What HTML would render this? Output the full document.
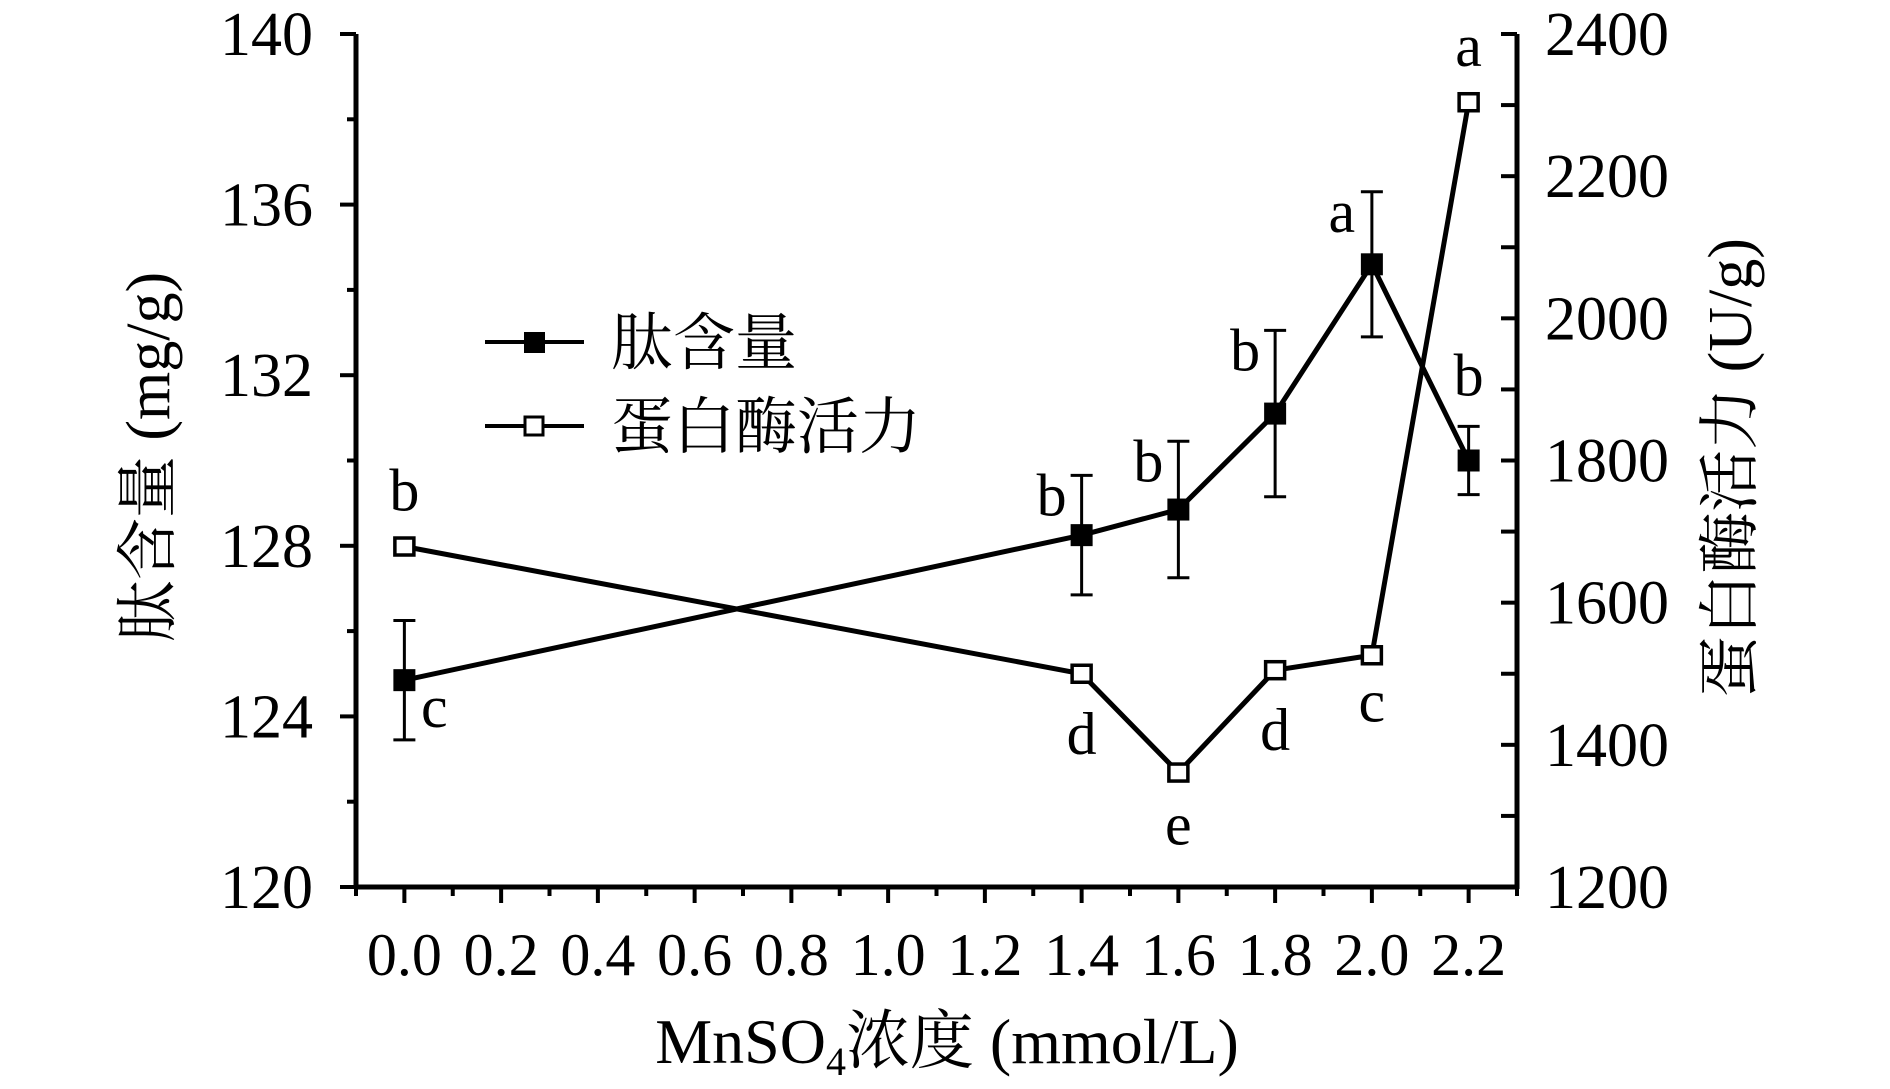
<!DOCTYPE html>
<html><head><meta charset="utf-8"><style>
html,body{margin:0;padding:0;background:#fff;}
svg{display:block;}
text{font-family:"Liberation Serif","Noto Serif CJK SC",serif;fill:#000;}
.cjk{font-family:"Liberation Serif","Noto Serif CJK SC",serif;}
</style></head><body>
<svg id="chart" width="1890" height="1089" viewBox="0 0 1890 1089" xmlns="http://www.w3.org/2000/svg">
<g id="axes"></g>
<g id="series"></g>
<text x="155" y="457" font-size="62" text-anchor="middle" dominant-baseline="middle" transform="rotate(-90 155 457)" class="cjk">肽含量 (mg/g)</text>
<text x="1737" y="468" font-size="62" text-anchor="middle" dominant-baseline="middle" transform="rotate(-90 1737 468)" class="cjk">蛋白酶活力 (U/g)</text>
<text x="947" y="1063" font-size="64" text-anchor="middle" class="cjk">MnSO<tspan font-size="40" dy="12">4</tspan><tspan dy="-12">浓度 (mmol/L)</tspan></text>
<g>
  <g>
    <line x1="485" y1="342" x2="584" y2="342" stroke="#000" stroke-width="4"/>
    <rect x="524" y="332" width="21" height="21" fill="#000"/>
    <text x="611" y="364" font-size="62" class="cjk">肽含量</text>
  </g>
  <g>
    <line x1="485" y1="426" x2="584" y2="426" stroke="#000" stroke-width="4"/>
    <rect x="525" y="417" width="18" height="18" fill="#fff" stroke="#000" stroke-width="3"/>
    <text x="611" y="448" font-size="62" class="cjk">蛋白酶活力</text>
  </g>
</g>
</svg>
<script>
const xCats = [0.0, 1.4, 1.6, 1.8, 2.0, 2.2];
const peptide = [124.85, 128.25, 128.85, 131.1, 134.6, 130.0];
const peptideErr = [1.4, 1.4, 1.6, 1.95, 1.7, 0.8];
const peptideLetters = ['c','b','b','b','a','b'];
const protease = [1679, 1500, 1361, 1505, 1526, 2304];
const proteaseErr = [0, 0, 10, 10, 10, 0];
const proteaseLetters = ['b','d','e','d','c','a'];
const xTicks = [0.0,0.2,0.4,0.6,0.8,1.0,1.2,1.4,1.6,1.8,2.0,2.2];
const xTickLabels = ['0.0','0.2','0.4','0.6','0.8','1.0','1.2','1.4','1.6','1.8','2.0','2.2'];
const leftTicks = [120,124,128,132,136,140];
const rightTicks = [1200,1400,1600,1800,2000,2200,2400];

const NS='http://www.w3.org/2000/svg';
const X0=356, X1=1517, Y0=887, Y1=34;
const xs = v => X0 + (v+0.1)/2.4*(X1-X0);
const yl = v => Y0 - (v-120)/20*(Y0-Y1);
const yr = v => Y0 - (v-1200)/1200*(Y0-Y1);
function el(tag, attrs, parent){const e=document.createElementNS(NS,tag);for(const k in attrs)e.setAttribute(k,attrs[k]);parent.appendChild(e);return e;}
const axes=document.getElementById('axes'), series=document.getElementById('series');

let a=el('line',{x1:X0,y1:Y1,x2:X0,y2:Y0+2,stroke:'#000','stroke-width':5},axes);


a=el('line',{x1:X1,y1:Y1,x2:X1,y2:Y0+2,stroke:'#000','stroke-width':5},axes);


a=el('line',{x1:X0-2,y1:Y0,x2:X1+2,y2:Y0,stroke:'#000','stroke-width':5},axes);



for(let i=0;i<xTicks.length;i++){
  const x=xs(xTicks[i]);
  el('line',{x1:x,y1:Y0,x2:x,y2:Y0+16,stroke:'#000','stroke-width':4},axes);
  const m=xs(xTicks[i]-0.1);
  el('line',{x1:m,y1:Y0,x2:m,y2:Y0+9,stroke:'#000','stroke-width':4},axes);
  const t=el('text',{x:x,y:Y0+88,'font-size':60,'text-anchor':'middle'},axes);
  t.textContent=xTickLabels[i];
  
  
}
el('line',{x1:xs(2.3),y1:Y0,x2:xs(2.3),y2:Y0+9,stroke:'#000','stroke-width':4},axes);
for(let i=0;i<leftTicks.length;i++){
  const y=yl(leftTicks[i]);
  el('line',{x1:X0-16,y1:y,x2:X0,y2:y,stroke:'#000','stroke-width':4},axes);
  if(i<leftTicks.length-1){const m=yl(leftTicks[i]+2);el('line',{x1:X0-9,y1:m,x2:X0,y2:m,stroke:'#000','stroke-width':4},axes);}
  const t=el('text',{x:313,y:y+21,'font-size':62,'text-anchor':'end'},axes);
  t.textContent=leftTicks[i];
  
  
}
for(let i=0;i<rightTicks.length;i++){
  const y=yr(rightTicks[i]);
  el('line',{x1:X1-16,y1:y,x2:X1,y2:y,stroke:'#000','stroke-width':4},axes);
  if(i<rightTicks.length-1){const m=yr(rightTicks[i]+100);el('line',{x1:X1-16,y1:m,x2:X1,y2:m,stroke:'#000','stroke-width':4},axes);}
  const t=el('text',{x:1545,y:y+21,'font-size':62,'text-anchor':'start'},axes);
  t.textContent=rightTicks[i];
  
  
}

let pts=xCats.map((c,i)=>xs(c)+','+yr(protease[i])).join(' ');
let pl=el('polyline',{points:pts,fill:'none',stroke:'#000','stroke-width':5},series);


pts=xCats.map((c,i)=>xs(c)+','+yl(peptide[i])).join(' ');
pl=el('polyline',{points:pts,fill:'none',stroke:'#000','stroke-width':5},series);



for(let i=0;i<xCats.length;i++){
  const x=xs(xCats[i]);
  const y=yl(peptide[i]), yt=yl(peptide[i]+peptideErr[i]), yb=yl(peptide[i]-peptideErr[i]);
  const eb=el('path',{d:`M${x},${yt}V${yb}M${x-11},${yt}H${x+11}M${x-11},${yb}H${x+11}`,stroke:'#000','stroke-width':3,fill:'none'},series);
  
  
  const r=el('rect',{x:x-11,y:y-11,width:22,height:22,fill:'#000'},series);
  
  
  const yp=yr(protease[i]);
  if(proteaseErr[i]>0){
    const e2=el('path',{d:`M${x-8},${yr(protease[i]+proteaseErr[i])}H${x+8}M${x-8},${yr(protease[i]-proteaseErr[i])}H${x+8}`,stroke:'#000','stroke-width':2},series);
    
    
  }
  const r2=el('rect',{x:x-9.5,y:yp-8.5,width:19,height:17,fill:'#fff',stroke:'#000','stroke-width':3.5},series);
  
  
}
for(let i=0;i<xCats.length;i++){
  const x=xs(xCats[i]);
  let tx,ty;
  if(i===0){tx=x+30;ty=yl(peptide[i])+47;}
  else if(i===5){tx=x;ty=yl(peptide[i])-65;}
  else {tx=x-30;ty=yl(peptide[i]+peptideErr[i])+40;}
  const t=el('text',{x:tx,y:ty,'font-size':60,'text-anchor':'middle'},series);
  t.textContent=peptideLetters[i];
  
  
}
for(let i=0;i<xCats.length;i++){
  const x=xs(xCats[i]);
  let ty;
  if(i===0||i===5) ty=yr(protease[i])-36;
  else ty=yr(protease[i])+(i===2?72:80);
  if(i===4) ty=yr(protease[i])+66;
  const t=el('text',{x:x,y:ty,'font-size':60,'text-anchor':'middle'},series);
  t.textContent=proteaseLetters[i];
  
  
}
</script>
</body></html>
